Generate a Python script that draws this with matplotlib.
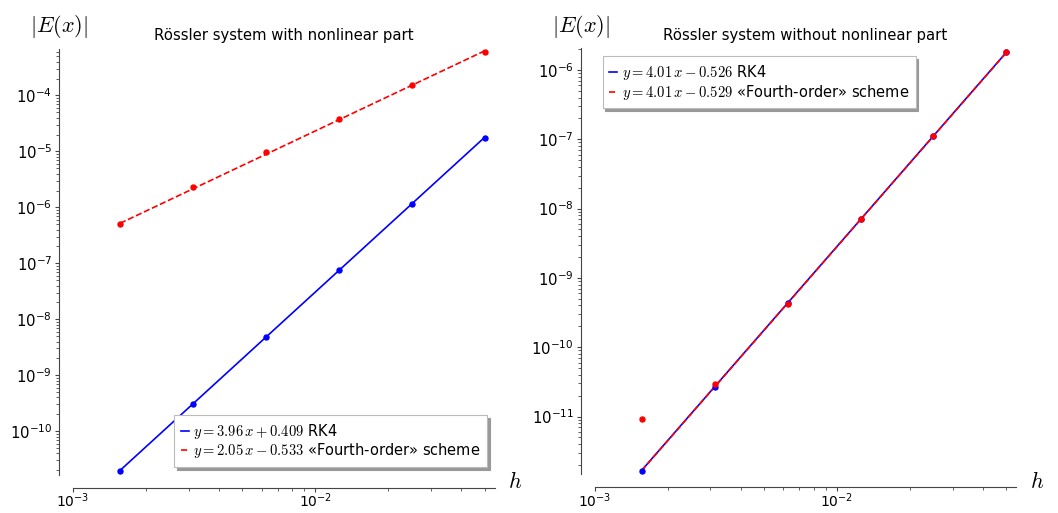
import numpy as np
import matplotlib
matplotlib.use("Agg")
import matplotlib.pyplot as plt
from matplotlib.ticker import LogLocator, NullFormatter

plt.rcParams['mathtext.fontset'] = 'cm'
plt.rcParams['font.family'] = ['DejaVu Sans']

# step sizes
h = [0.0015625, 0.003125, 0.00625, 0.0125, 0.025, 0.05]

# errors, system with nonlinear part
err_rk4_nl = [1.94e-11, 3.03e-10, 4.78e-9, 7.55e-8, 1.16e-6, 1.74e-5]
err_fourth_nl = [5.02e-7, 2.31e-6, 9.6e-6, 3.85e-5, 1.54e-4, 6.08e-4]

# errors, system without nonlinear part
err_rk4_lin = [1.65e-12, 2.64e-11, 4.30e-10, 7.02e-9, 1.12e-7, 1.84e-6]
err_fourth_lin = [9.12e-12, 2.94e-11, 4.27e-10, 6.97e-9, 1.11e-7, 1.83e-6]

# fitted lines log10(E) = a*log10(h) + b (from the legends)
fit_rk4_nl = [3.96, 0.409]
fit_fourth_nl = [2.05, -0.533]
fit_rk4_lin = [4.01, -0.526]
fit_fourth_lin = [4.01, -0.529]

titles = ["Rössler system with nonlinear part", "Rössler system without nonlinear part"]


def fit_line(coef, hs):
    return 10 ** np.polyval(coef, np.log10(hs))


def label(coef, name):
    sign = "+" if coef[1] >= 0 else "-"
    return r"$y = %.2f\,x %s %.3f$ %s" % (coef[0], sign, abs(coef[1]), name)


W, H = 1058, 513
fig = plt.figure(figsize=(W / 100, H / 100), dpi=100)

# axes boxes in pixels: left, right, top, bottom
boxes = [(73, 495, 48.8, 475), (594.6, 1016.5, 48.3, 474.3)]
ylims = [(10 ** -10.784, 10 ** -3.166), (10 ** -11.834, 10 ** -5.687)]
panels = [
    (err_rk4_nl, err_fourth_nl, fit_rk4_nl, fit_fourth_nl, 'lower right'),
    (err_rk4_lin, err_fourth_lin, fit_rk4_lin, fit_fourth_lin, 'upper left'),
]

for i, (e1, e2, c1, c2, loc) in enumerate(panels):
    l, r, t, b = boxes[i]
    ax = fig.add_axes([l / W, 1 - b / H, (r - l) / W, (b - t) / H])
    ax.set_xscale('log')
    ax.set_yscale('log')

    ax.plot(h, fit_line(c1, h), color='blue', lw=1.2, label=label(c1, "RK4"))
    ax.plot(h, fit_line(c2, h), color='red', lw=1.2, ls='--',
            label=label(c2, "«Fourth-order» scheme"))
    ax.plot(h, e1, 'o', color='blue', ms=3.6)
    ax.plot(h, e2, 'o', color='red', ms=3.6)

    ax.set_xlim(1e-3, 0.055)
    ax.set_ylim(*ylims[i])

    ax.xaxis.set_major_locator(LogLocator(base=10, numticks=20))
    ax.xaxis.set_minor_locator(LogLocator(base=10, subs=np.arange(2, 10), numticks=20))
    ax.yaxis.set_major_locator(LogLocator(base=10, numticks=20))
    ax.yaxis.set_minor_locator(LogLocator(base=10, subs=np.arange(2, 10), numticks=20))
    ax.xaxis.set_minor_formatter(NullFormatter())
    ax.yaxis.set_minor_formatter(NullFormatter())

    for s in ['top', 'right']:
        ax.spines[s].set_visible(False)
    ax.spines['left'].set_position(('outward', 10))
    ax.spines['bottom'].set_position(('outward', 9))
    for s in ['left', 'bottom']:
        ax.spines[s].set_color('#444444')
        ax.spines[s].set_linewidth(0.8)
    ax.tick_params(which='major', direction='out', length=3, width=0.8,
                   color='#444444', labelsize=10.7, pad=2)
    ax.tick_params(axis='x', which='major', pad=0, labelsize=10)
    ax.tick_params(which='minor', direction='out', length=2, width=0.6,
                   color='#444444')

    ax.set_title(titles[i], fontsize=10.7, pad=6)

    leg = ax.legend(loc=loc, fontsize=10.5, handlelength=0.55, handletextpad=0.3,
                    borderpad=0.45, labelspacing=0.05, borderaxespad=0.55,
                    fancybox=False, framealpha=1,
                    shadow={'color': '#999999', 'alpha': 1})
    leg.get_frame().set_edgecolor('#bbbbbb')
    leg.get_frame().set_linewidth(0.8)

    # axis labels at the ends of the spines
    fig.text((l - 14) / W, 1 - 27 / H, r'$|E(x)|$', fontsize=16,
             ha='center', va='center')
    fig.text((r + 13) / W, 1 - 487.5 / H, r'$h$', fontsize=16,
             ha='left', va='baseline')

fig.savefig("out.png", dpi=100)
